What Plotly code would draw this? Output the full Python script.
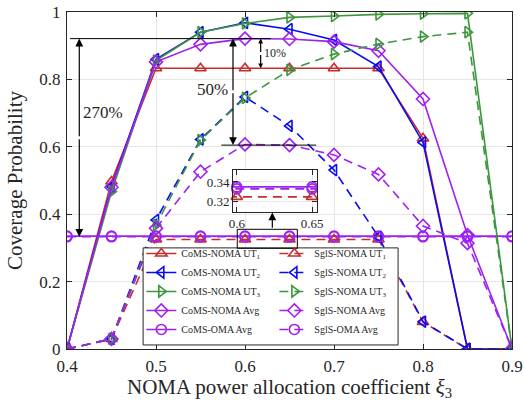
import plotly.graph_objects as go

# ---------------- data ----------------
xi3 = [0.4, 0.45, 0.5, 0.55, 0.6, 0.65, 0.7, 0.75, 0.8, 0.85, 0.9]

coms_ut1 = [0, 0.497, 0.833, 0.833, 0.833, 0.833, 0.833, 0.833, 0.625, 0, 0]
coms_ut2 = [0, 0.482, 0.86, 0.94, 0.968, 0.949, 0.917, 0.838, 0.613, 0, 0]
coms_ut3 = [0, 0.467, 0.856, 0.94, 0.966, 0.984, 0.988, 0.993, 0.995, 0.996, 0]
coms_avg = [0, 0.48, 0.852, 0.904, 0.921, 0.92, 0.912, 0.885, 0.742, 0.338, 0]
coms_oma = [0.335, 0.335, 0.335, 0.335, 0.335, 0.335, 0.335, 0.335, 0.335, 0.335, 0.335]

sgls_ut1 = [0, 0.03, 0.325, 0.325, 0.325, 0.325, 0.325, 0.325, 0.08, 0, 0]
sgls_ut2 = [0, 0.03, 0.383, 0.622, 0.748, 0.662, 0.531, 0.333, 0.081, 0, 0]
sgls_ut3 = [0, 0.03, 0.368, 0.62, 0.745, 0.828, 0.875, 0.905, 0.927, 0.94, 0]
sgls_avg = [0, 0.03, 0.358, 0.526, 0.607, 0.605, 0.576, 0.518, 0.365, 0.314, 0]
sgls_oma = [0.333, 0.333, 0.333, 0.333, 0.333, 0.333, 0.333, 0.333, 0.333, 0.333, 0.333]

x_ticks = [0.4, 0.5, 0.6, 0.7, 0.8, 0.9]
x_ticklabels = ["0.4", "0.5", "0.6", "0.7", "0.8", "0.9"]
y_ticks = [0, 0.2, 0.4, 0.6, 0.8, 1]
y_ticklabels = ["0", "0.2", "0.4", "0.6", "0.8", "1"]

inset_x_ticks = [0.6, 0.65]
inset_x_ticklabels = ["0.6", "0.65"]
inset_y_ticks = [0.32, 0.34]
inset_y_ticklabels = ["0.32", "0.34"]

# ---------------- style ----------------
RED = "#C62D2D"
BLUE = "#0A0AF5"
GREEN = "#3C963C"
PURPLE = "#A020F0"
FONT = "Liberation Serif"
TXT = "#262626"
DASH = "9px,6px"
LW = 1.6

series = [
    ("CoMS-NOMA UT<sub>1</sub>", coms_ut1, RED, "triangle-up-open", "solid", "legend"),
    ("CoMS-NOMA UT<sub>2</sub>", coms_ut2, BLUE, "triangle-left-open", "solid", "legend"),
    ("CoMS-NOMA UT<sub>3</sub>", coms_ut3, GREEN, "triangle-right-open", "solid", "legend"),
    ("CoMS-NOMA Avg", coms_avg, PURPLE, "diamond-open", "solid", "legend"),
    ("CoMS-OMA Avg", coms_oma, PURPLE, "circle-open", "solid", "legend"),
    ("SglS-NOMA UT<sub>1</sub>", sgls_ut1, RED, "triangle-up-open", DASH, "legend2"),
    ("SglS-NOMA UT<sub>2</sub>", sgls_ut2, BLUE, "triangle-left-open", DASH, "legend2"),
    ("SglS-NOMA UT<sub>3</sub>", sgls_ut3, GREEN, "triangle-right-open", DASH, "legend2"),
    ("SglS-NOMA Avg", sgls_avg, PURPLE, "diamond-open", DASH, "legend2"),
    ("SglS-OMA Avg", sgls_oma, PURPLE, "circle-open", DASH, "legend2"),
]

fig = go.Figure()

for name, ys, col, sym, dash, leg in series:
    fig.add_trace(go.Scatter(
        x=xi3, y=ys, name=name, mode="lines+markers",
        line=dict(color=col, width=LW, dash=dash),
        marker=dict(symbol=sym, size=10, color=col, line=dict(color=col, width=1.6)),
        legend=leg,
    ))

# inset (zoom of the 0.6-0.65 region)
ix_range = [0.5975, 0.653]
iy_range = [0.31, 0.352]
for name, ys, col, sym, dash, leg in series:
    fig.add_trace(go.Scatter(
        x=xi3, y=ys, mode="lines", showlegend=False,
        line=dict(color=col, width=LW, dash=dash),
        xaxis="x2", yaxis="y2", hoverinfo="skip",
    ))
    px = [a for a, b in zip(xi3, ys) if ix_range[0] <= a <= ix_range[1] and iy_range[0] <= b <= iy_range[1]]
    py = [b for a, b in zip(xi3, ys) if ix_range[0] <= a <= ix_range[1] and iy_range[0] <= b <= iy_range[1]]
    if px:
        fig.add_trace(go.Scatter(
            x=px, y=py, mode="markers", showlegend=False, cliponaxis=False,
            marker=dict(symbol=sym, size=10, color=col, line=dict(color=col, width=1.6)),
            xaxis="x2", yaxis="y2", hoverinfo="skip",
        ))

axis_common = dict(
    showline=True, linecolor=TXT, linewidth=1, mirror="ticks",
    ticks="inside", ticklen=5, tickcolor=TXT, automargin=False,
    showgrid=True, gridcolor="#E6E6E6", gridwidth=1, zeroline=False,
)

fig.update_layout(
    width=524, height=401,
    margin=dict(l=67, r=12, t=12, b=52, autoexpand=False),
    paper_bgcolor="white", plot_bgcolor="white",
    font=dict(family=FONT, color=TXT),
    xaxis=dict(
        range=[0.4, 0.9], tickvals=x_ticks, ticktext=x_ticklabels,
        tickfont=dict(size=17, family=FONT, color=TXT), ticklabelstandoff=2,
        title=dict(text="NOMA power allocation coefficient <i>ξ</i><sub>3</sub>",
                   font=dict(size=21, family=FONT, color=TXT), standoff=3),
        **axis_common,
    ),
    yaxis=dict(
        range=[0, 1], tickvals=y_ticks, ticktext=y_ticklabels,
        tickfont=dict(size=17, family=FONT, color=TXT), ticklabelstandoff=2,
        title=dict(text="Coverage Probability",
                   font=dict(size=21, family=FONT, color=TXT), standoff=10),
        **axis_common,
    ),
    xaxis2=dict(
        domain=[0.373, 0.561], anchor="y2", range=ix_range,
        tickvals=inset_x_ticks, ticktext=inset_x_ticklabels,
        tickfont=dict(size=13, family=FONT, color=TXT),
        **axis_common,
    ),
    yaxis2=dict(
        domain=[0.4074, 0.531], anchor="x2", range=iy_range,
        tickvals=inset_y_ticks, ticktext=inset_y_ticklabels,
        tickfont=dict(size=13, family=FONT, color=TXT),
        **axis_common,
    ),
    legend=dict(
        x=0.167, y=0.015, xanchor="left", yanchor="bottom",
        bgcolor="rgba(255,255,255,0)", borderwidth=0,
        font=dict(size=10, family=FONT, color=TXT),
        tracegroupgap=0,
    ),
    legend2=dict(
        x=0.466, y=0.015, xanchor="left", yanchor="bottom",
        bgcolor="rgba(255,255,255,0)", borderwidth=0,
        font=dict(size=10, family=FONT, color=TXT),
        tracegroupgap=0,
    ),
    showlegend=True,
)

# legend frame
fig.add_shape(type="rect", xref="paper", yref="paper",
              x0=0.171, x1=0.744, y0=0.012, y1=0.30,
              line=dict(color=TXT, width=1), fillcolor="white", layer="above")

# reference lines
line_style = dict(color="black", width=1)
fig.add_shape(type="line", xref="x", yref="y", x0=0.4034, x1=0.629, y0=0.921, y1=0.921, line=line_style)
fig.add_shape(type="line", xref="x", yref="y", x0=0.5734, x1=0.68, y0=0.605, y1=0.605, line=line_style)
fig.add_shape(type="rect", xref="x", yref="y", x0=0.5913, x1=0.6588, y0=0.2988, y1=0.3552,
              line=line_style, fillcolor="rgba(0,0,0,0)")

# double arrows
def darrow(x, y0, y1, size=1.0):
    for ya in (y0, y1):
        fig.add_annotation(x=x, y=ya, ax=x, ay=(y0 + y1) / 2, xref="x", yref="y",
                           axref="x", ayref="y", text="", showarrow=True,
                           arrowhead=2, arrowsize=size, arrowwidth=1.2, arrowcolor="black")

darrow(0.4138, 0.921, 0.333, 1.3)
darrow(0.5865, 0.921, 0.605, 1.3)
darrow(0.6176, 0.921, 0.833, 0.8)
# arrow from the zoom box up to the inset
fig.add_annotation(x=0.6307, y=0.405, ax=0.6307, ay=0.3552, xref="x", yref="y",
                   axref="x", ayref="y", text="", showarrow=True,
                   arrowhead=2, arrowsize=1.3, arrowwidth=1.2, arrowcolor="black")

fig.add_annotation(x=0.4404, y=0.703, xref="x", yref="y", text="270%", showarrow=False,
                   font=dict(size=17, family=FONT, color=TXT))
fig.add_annotation(x=0.5640, y=0.77, xref="x", yref="y", text="50%", showarrow=False,
                   font=dict(size=17, family=FONT, color=TXT))
fig.add_annotation(x=0.634, y=0.877, xref="x", yref="y", text="10%", showarrow=False,
                   font=dict(size=12, family=FONT, color=TXT))

# remove the default 8px page margin so the figure fills the window exactly
fig.write_html("out.html", config={"displayModeBar": False},
               post_script="document.body.style.margin='0';document.body.style.overflow='hidden';")
